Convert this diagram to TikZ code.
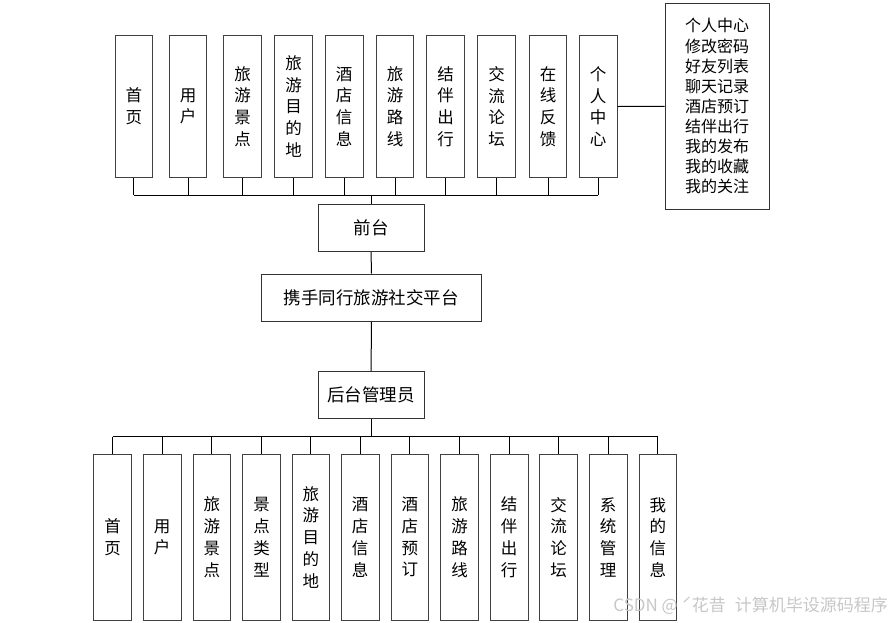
\documentclass[tikz,border=0pt]{standalone}
\usepackage{fontspec}
\setmainfont{Noto Sans CJK SC}
\begin{document}
\begin{tikzpicture}[x=1pt,y=-1pt,
  vbox/.style={draw=black!75,line width=1pt,minimum width=37.6pt,inner sep=0pt,align=center,
    font=\fontsize{16.5}{21.7}\selectfont},
  topbox/.style={vbox,minimum height=141.6pt},
  botbox/.style={vbox,minimum height=165.7pt},
  midbox/.style={draw=black!80,line width=1pt,inner sep=0pt,minimum height=47.3pt,
    font=\fontsize{17.5}{20}\selectfont},
  conn/.style={draw=black,line width=1pt}]
\useasboundingbox (0,0) rectangle (894,622);
% top modules
\node[topbox] (t1) at (133.8,106.5) {首\\页};
\node[topbox] (t2) at (188,106.5) {用\\户};
\node[topbox] (t3) at (242.5,106.5) {旅\\游\\景\\点};
\node[topbox] (t4) at (293.5,106.5) {旅\\游\\目\\的\\地};
\node[topbox] (t5) at (344.2,106.5) {酒\\店\\信\\息};
\node[topbox] (t6) at (395,106.5) {旅\\游\\路\\线};
\node[topbox] (t7) at (445.7,106.5) {结\\伴\\出\\行};
\node[topbox] (t8) at (496.5,106.5) {交\\流\\论\\坛};
\node[topbox] (t9) at (548,106.5) {在\\线\\反\\馈};
\node[topbox] (t10) at (598.2,106.5) {个\\人\\中\\心};
\node[draw=black!80,line width=1pt,minimum width=104pt,minimum height=206pt,inner sep=0pt,align=center,
  font=\fontsize{16}{20.1}\selectfont] (list) at (717,106.3)
  {个人中心\\修改密码\\好友列表\\聊天记录\\酒店预订\\结伴出行\\我的发布\\我的收藏\\我的关注};
% middle
\node[midbox,minimum width=106.3pt] (qt) at (371.2,228) {前台};
\node[midbox,minimum width=220pt] (pt) at (371.3,297.8) {携手同行旅游社交平台};
\node[midbox,minimum width=106.3pt] (ht) at (371.2,395.3) {后台管理员};
% bottom modules
\node[botbox] (b1) at (112.6,537.2) {首\\页};
\node[botbox] (b2) at (162.2,537.2) {用\\户};
\node[botbox] (b3) at (211.9,537.2) {旅\\游\\景\\点};
\node[botbox] (b4) at (261.6,537.2) {景\\点\\类\\型};
\node[botbox] (b5) at (310.9,537.2) {旅\\游\\目\\的\\地};
\node[botbox] (b6) at (360.2,537.2) {酒\\店\\信\\息};
\node[botbox] (b7) at (409.9,537.2) {酒\\店\\预\\订};
\node[botbox] (b8) at (459.6,537.2) {旅\\游\\路\\线};
\node[botbox] (b9) at (509.2,537.2) {结\\伴\\出\\行};
\node[botbox] (b10) at (558.6,537.2) {交\\流\\论\\坛};
\node[botbox] (b11) at (608.2,537.2) {系\\统\\管\\理};
\node[botbox] (b12) at (657.8,537.2) {我\\的\\信\\息};
% bus coordinates
\coordinate (tbus) at (371.2,195.3);
\coordinate (bbus) at (371.2,436.7);
% top connectors
\foreach \i in {1,...,10} { \draw[conn] (t\i.south) -- (t\i.south |- tbus); }
\draw[conn] (t1.south |- tbus) -- (t10.south |- tbus);
\draw[conn] (tbus) -- (qt.north);
\draw[conn] (t10.east) -- (list.west);
\draw[conn] (qt.south) -- (pt.north);
\draw[conn] (pt.south) -- (ht.north);
\draw[conn] (ht.south) -- (bbus);
\foreach \i in {1,...,12} { \draw[conn] (b\i.north) -- (b\i.north |- bbus); }
\draw[conn] (b1.north |- bbus) -- (b12.north |- bbus);
% watermark
\node[text=black!22,font=\fontsize{17}{19}\selectfont,inner sep=0pt,anchor=east] (wm) at (888,606) {CSDN @ ˊ花昔\hspace{9pt}计算机毕设源码程序};
\end{tikzpicture}
\end{document}
